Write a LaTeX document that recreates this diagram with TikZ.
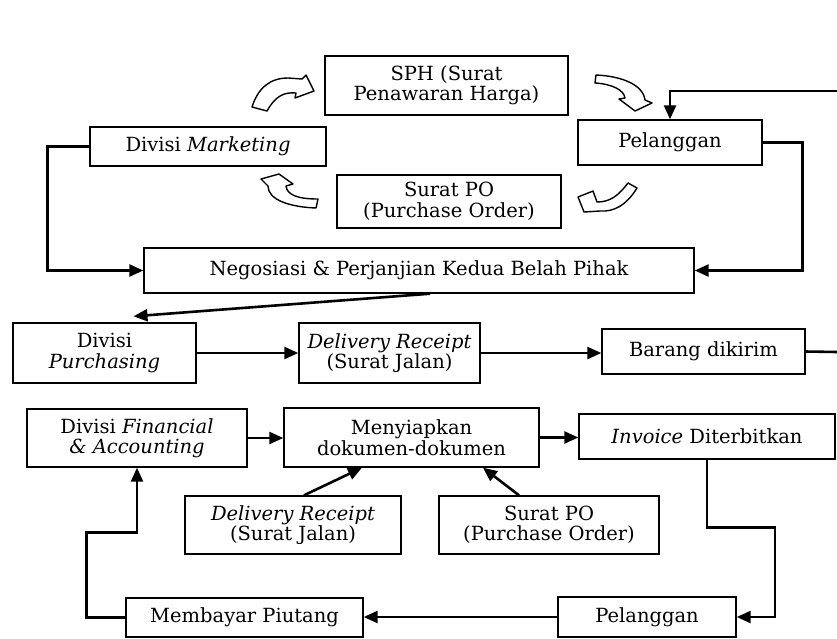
\documentclass[tikz,border=0pt]{standalone}
\usepackage{fontspec}
\setmainfont{DejaVu Serif}
\usetikzlibrary{arrows.meta}
\tikzset{
  box/.style={draw=black, line width=1.4pt, inner sep=0pt, align=center,
    font=\fontsize{19.5}{20.5}\selectfont},
  conn/.style={draw=black, line width=2.6pt, -{Triangle[length=14pt,width=12pt]}},
  plain/.style={draw=black, line width=2.6pt},
  blockarrow/.style={draw=black, line width=1.4pt, fill=white, line join=round}
}
\begin{document}
\begin{tikzpicture}[x=1pt,y=-1pt]
\useasboundingbox (0,0) rectangle (837,638);

% nodes
\node[box, minimum width=243pt, minimum height=59pt] (sph) at (446.5,85.5) {SPH (Surat\\Penawaran Harga)};
\node[box, minimum width=236pt, minimum height=39pt] (mkt) at (208,146.5) {Divisi \textit{Marketing}};
\node[box, minimum width=184pt, minimum height=45pt] (pel1) at (670,142.5) {Pelanggan};
\node[box, minimum width=224pt, minimum height=53pt] (po1) at (449,201.5) {Surat PO\\(Purchase Order)};
\node[box, minimum width=550pt, minimum height=45pt] (neg) at (419,270.5) {Negosiasi \& Perjanjian Kedua Belah Pihak};
\node[box, minimum width=183pt, minimum height=60pt] (pur) at (104.5,353) {Divisi\\\textit{Purchasing}};
\node[box, minimum width=181pt, minimum height=60pt] (dr1) at (389.5,353) {\textit{Delivery Receipt}\\(Surat Jalan)};
\node[box, minimum width=203pt, minimum height=45pt] (brg) at (703.5,351.5) {Barang dikirim};
\node[box, minimum width=220pt, minimum height=58pt] (fin) at (137,438) {Divisi \textit{Financial}\\\textit{\& Accounting}};
\node[box, minimum width=255pt, minimum height=59pt] (men) at (411.5,437.5) {Menyiapkan\\dokumen-dokumen};
\node[box, minimum width=256pt, minimum height=45pt] (inv) at (707,436.5) {\textit{Invoice} Diterbitkan};
\node[box, minimum width=216pt, minimum height=58pt] (dr2) at (293,525) {\textit{Delivery Receipt}\\(Surat Jalan)};
\node[box, minimum width=220pt, minimum height=58pt] (po2) at (549,525) {Surat PO\\(Purchase Order)};
\node[box, minimum width=178pt, minimum height=40pt] (pel2) at (647,617) {Pelanggan};
\node[box, minimum width=237pt, minimum height=39pt] (bay) at (244.5,617.5) {Membayar Piutang};

\coordinate (in1) at (837,91);
\coordinate (out1) at (837,352);

% connectors
\draw[conn] (mkt.west) -- ++(-42,0) |- (neg.west);
\draw[conn] (pel1.east) -- ++(40,0) |- (neg.east);
\draw[conn] (in1) -| (pel1.north);
\draw[conn] ([xshift=11pt]neg.south) -- ([xshift=29pt,yshift=6pt]pur.north);
\draw[conn] (pur.east) -- (dr1.west);
\draw[conn] (dr1.east) -- (brg.west |- dr1.east);
\draw[plain] (brg.east) -- (out1);
\draw[conn] (fin.east) -- (men.west |- fin.east);
\draw[conn] (men.east) -- (inv.west |- men.east);
\draw[conn] ([xshift=11pt]dr2.north) -- ([xshift=-49.5pt]men.south);
\draw[conn] ([xshift=-30pt]po2.north) -- ([xshift=71.5pt]men.south);
\draw[conn] (inv.south) -- ++(0,68) -- ++(68,0) |- (pel2.east);
\draw[conn] (pel2.west) -- (bay.east |- pel2.west);
\draw[conn] (bay.west) -- ++(-39,0) -- ++(0,-85) -| (fin.south);

% hollow curved block arrows
\draw[blockarrow] (252,107) .. controls (258,88) and (270,78) .. (288,78) -- (302,79) -- (306,75) -- (314,91) -- (295,98) -- (296,93) .. controls (285,92) and (276,95) .. (267,111) -- cycle;
\draw[blockarrow] (596,75) .. controls (620,76) and (643,84) .. (645,100) -- (652,103) -- (635,111) -- (619,99) -- (625,98) .. controls (624,90) and (612,84) .. (595,83) -- cycle;
\draw[blockarrow] (318,199) -- (316,208) .. controls (290,207) and (268,200) .. (268,186) -- (261,179) -- (279,174) -- (293,184) -- (286,186) .. controls (287,195) and (298,199) .. (318,199) -- cycle;
\draw[blockarrow] (628,183) -- (637,188) .. controls (626,206) and (613,212) .. (600,211) -- (584,212) -- (578,197) -- (593,191) -- (597,202) .. controls (610,202) and (618,196) .. (628,183) -- cycle;
\end{tikzpicture}
\end{document}
